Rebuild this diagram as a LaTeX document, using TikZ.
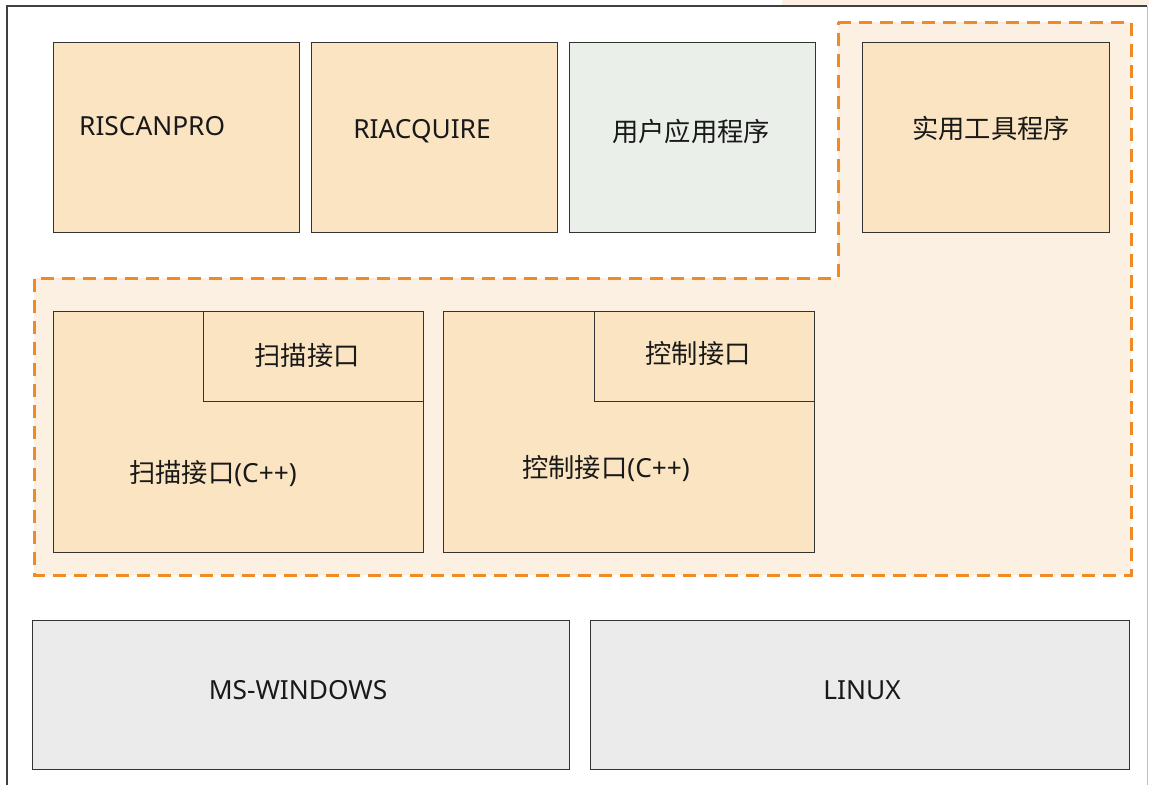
\documentclass[tikz,border=0pt]{standalone}
\usepackage{fontspec}
\setmainfont{Noto Sans}
\newfontfamily\cjk{Noto Sans CJK SC}
\begin{document}
\begin{tikzpicture}[x=1pt,y=-1pt,
  box/.style={draw=black!80, line width=1.4pt, fill=boxcream, inner sep=0pt},
  lbl/.style={font=\fontsize{26.3}{30}\selectfont, text=black!90, inner sep=0pt},
  zone/.style={draw=dashorange, line width=3pt, dash pattern=on 13pt off 8pt, fill=zonecream}
]
\definecolor{boxcream}{HTML}{FBE4C2}
\definecolor{zonecream}{HTML}{FCF0E3}
\definecolor{greenish}{HTML}{EBEFEA}
\definecolor{osgrey}{HTML}{EAEBEA}
\definecolor{dashorange}{HTML}{F08A24}
\useasboundingbox (0,0) rectangle (1149,785);
% top strip
\fill[zonecream] (782,0) rectangle (1149,5);
% outer frame
\coordinate (fTL) at (7,6);
\coordinate (fTR) at (1147,6);
\coordinate (fBL) at (7,785);
\coordinate (fBR) at (1147,785);
\draw[black!75, line width=1.5pt] (fBL) -- (fTL) -- (fTR);
\draw[black!25, line width=1pt] (fTR) -- (fBR);
% dashed zone
\draw[zone] (838,22) -- (1131,22) -- (1131,575) -- (34,575) -- (34,278) -- (838,278) -- cycle;
% top row
\node[box, minimum width=246pt, minimum height=190pt, anchor=north west] (riscan) at (53,42) {};
\node[lbl, anchor=west] (riscanT) at (79,126) {RISCANPRO};
\node[box, minimum width=246pt, minimum height=190pt, anchor=north west] (riacq) at (311,42) {};
\node[lbl] (riacqT) at (422,131) {RIACQUIRE};
\node[box, fill=greenish, minimum width=246pt, minimum height=190pt, anchor=north west] (user) at (569,42) {};
\node[lbl] (userT) at (691,131) {\cjk 用户应用程序};
\node[box, minimum width=247pt, minimum height=190pt, anchor=north west] (util) at (862,42) {};
\node[lbl] (utilT) at (991,128) {\cjk 实用工具程序};
% interface boxes
\node[box, minimum width=370pt, minimum height=241pt, anchor=north west] (scan) at (53,311) {};
\node[box, minimum width=220pt, minimum height=90pt, anchor=north west] (scanI) at (203,311) {};
\node[lbl] (scanIT) at (307,356) {\cjk 扫描接口};
\node[lbl] (scanT) at (213,474) {{\cjk 扫描接口}(C++)};
\node[box, minimum width=371pt, minimum height=241pt, anchor=north west] (ctrl) at (443,311) {};
\node[box, minimum width=220pt, minimum height=90pt, anchor=north west] (ctrlI) at (594,311) {};
\node[lbl] (ctrlIT) at (698,354) {\cjk 控制接口};
\node[lbl] (ctrlT) at (606,469) {{\cjk 控制接口}(C++)};
% OS
\node[box, fill=osgrey, minimum width=537pt, minimum height=149pt, anchor=north west] (win) at (32,620) {};
\node[lbl] (winT) at (298,690) {MS-WINDOWS};
\node[box, fill=osgrey, minimum width=539pt, minimum height=149pt, anchor=north west] (linux) at (590,620) {};
\node[lbl] (linuxT) at (862,690) {LINUX};
\end{tikzpicture}
\end{document}
